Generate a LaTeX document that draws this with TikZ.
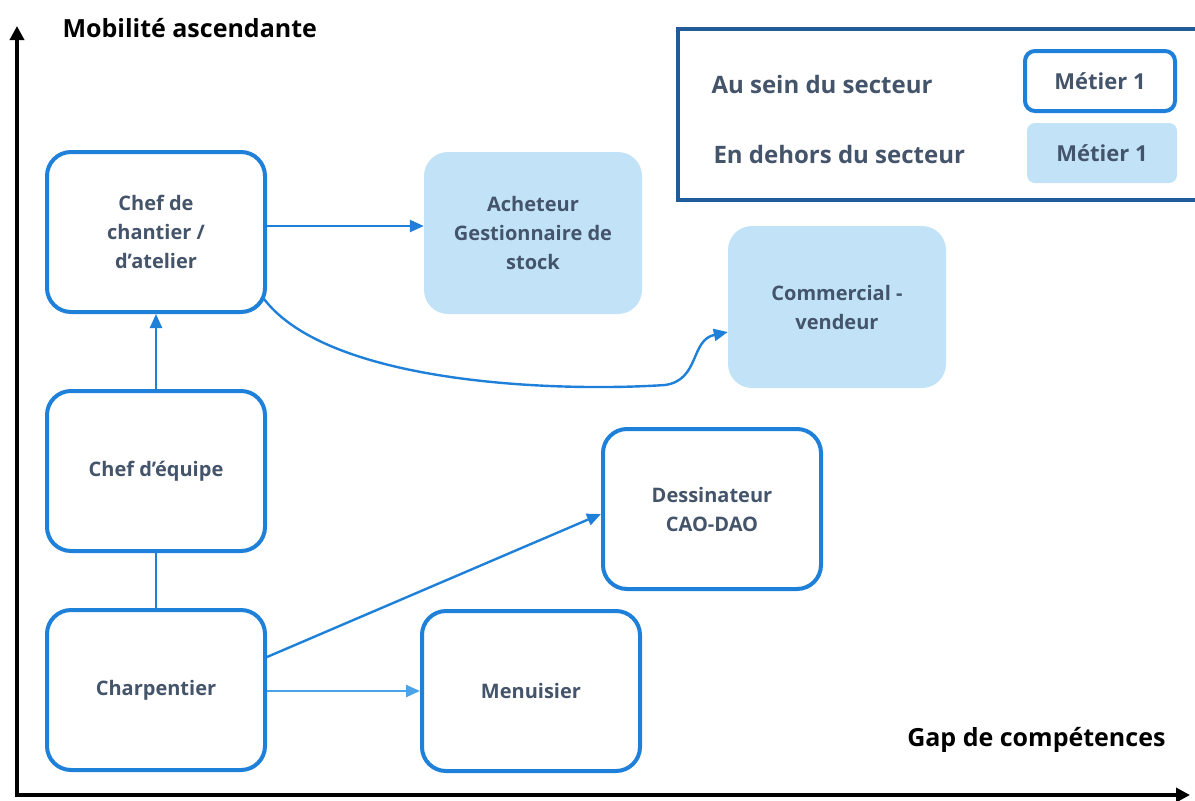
\documentclass[tikz,border=0pt]{standalone}
\usepackage{fontspec}
\setmainfont{Open Sans}
\usetikzlibrary{arrows.meta}
\definecolor{bord}{HTML}{1E80D9}
\definecolor{fillb}{HTML}{C2E3F7}
\definecolor{txt}{HTML}{44546A}
\definecolor{leg}{HTML}{1F5C99}
\definecolor{light}{HTML}{4DA3E8}
\tikzset{
  inbox/.style={draw=bord, line width=4pt, rounded corners=24pt, fill=white, font=\bfseries\fontsize{20}{29}\selectfont, text=txt, align=center, minimum width=218pt, minimum height=160pt, inner sep=0pt},
  outbox/.style={fill=fillb, rounded corners=24pt, font=\bfseries\fontsize{20}{29}\selectfont, text=txt, align=center, minimum width=218pt, minimum height=162pt, inner sep=0pt},
  conn/.style={draw=bord, line width=2.4pt, -{Triangle[length=14pt,width=12pt]}},
  axis/.style={line width=4pt, -{Triangle[length=14pt,width=14pt]}},
  legtext/.style={anchor=west, font=\bfseries\fontsize{24}{28}\selectfont, text=txt},
}
\begin{document}
\begin{tikzpicture}[x=1pt,y=-1pt]
\useasboundingbox (0,0) rectangle (1195,801);
% axes
\coordinate (ytop) at (17,26);
\coordinate (xend) at (1190,795);
\draw[axis] (17,797) -- (ytop);
\draw[axis] (15,795) -- (xend);
\node[anchor=west, font=\bfseries\fontsize{25}{29}\selectfont] (ylab) at (59,28) {Mobilité ascendante};
\node[anchor=east, font=\bfseries\fontsize{25}{29}\selectfont] (xlab) at (1169,740) {Gap de compétences};
% legend
\draw[leg, line width=4pt] (1200,29) -- (678,29) -- (678,200) -- (1200,200);
\node[legtext] (l1) at (708,84) {Au sein du secteur};
\node[legtext] (l2) at (710,154) {En dehors du secteur};
\node[draw=bord, line width=4pt, rounded corners=10pt, minimum width=150pt, minimum height=60pt, font=\bfseries\fontsize{22}{26}\selectfont, text=txt, inner sep=0pt] (lb1) at (1100,81) {Métier 1};
\node[fill=fillb, rounded corners=8pt, minimum width=150pt, minimum height=60pt, font=\bfseries\fontsize{22}{26}\selectfont, text=txt, inner sep=0pt] (lb2) at (1102,153) {Métier 1};
% nodes
\node[inbox] (chef) at (156,232) {Chef de\\chantier /\\d’atelier};
\node[outbox] (ach) at (533,233) {Acheteur\\Gestionnaire de\\stock};
\node[outbox] (com) at (837,307) {Commercial -\\vendeur};
\node[inbox] (equipe) at (156,471) {Chef d’équipe};
\node[inbox] (dess) at (712,509) {Dessinateur\\CAO-DAO};
\node[inbox] (charp) at (156,690) {Charpentier};
\node[inbox] (menu) at (531,691) {Menuisier};
% connectors
\draw[conn] (chef.east |- 0,226) -- (ach.west |- 0,226);
\draw[conn] (equipe.north) -- (chef.south);
\draw[draw=bord, line width=2.4pt] (charp.north) -- (equipe.south);
\draw[conn] (charp.east |- 0,657) -- (dess.west |- 0,514);
\draw[draw=light, line width=2.4pt, -{Triangle[length=14pt,width=12pt]}] (charp.east |- 0,691) -- (menu.west |- 0,691);
\draw[conn] (264,299) .. controls (330,385) and (560,392) .. (665,385) .. controls (700,380) and (690,340) .. (com.west |- 0,332);
\end{tikzpicture}
\end{document}
